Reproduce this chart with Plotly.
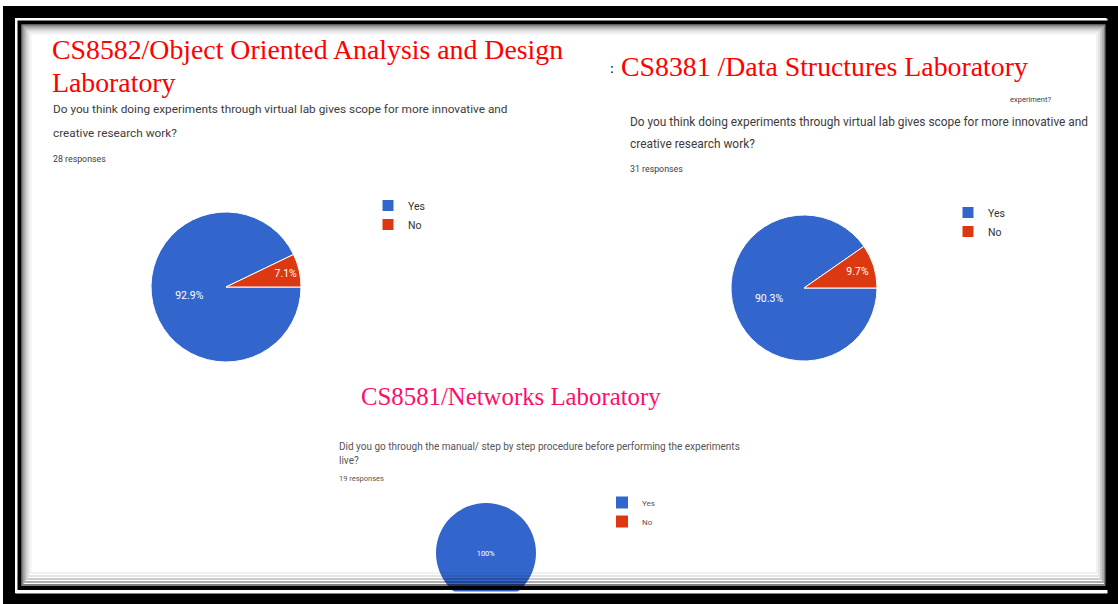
import plotly.graph_objects as go

# Survey answers (Google Forms style pies)
LABELS = ["Yes", "No"]
oodl_values = [26, 2]        # CS8582 - 28 responses
ds_values = [28, 3]          # CS8381 - 31 responses
net_values = [19, 0]         # CS8581 - 19 responses

TITLES = [
    "CS8582/Object Oriented Analysis and Design",
    "Laboratory",
    "CS8381 /Data Structures Laboratory",
    "CS8581/Networks Laboratory",
]
QUESTION_A = ["Do you think doing experiments through virtual lab gives scope for more innovative and",
              "creative research work?"]
QUESTION_B = ["Did you go through the manual/ step by step procedure before performing the experiments",
              "live?"]
RESPONSES = ["28 responses", "31 responses", "19 responses"]

W, H = 1118, 604
BLUE = "#3366CC"
RED = "#DC3912"
TITLE_RED = "#FF0000"
TITLE_PINK = "#FF0D68"
Q_GRAY = "#3c3c3c"
SANS = "Roboto, sans-serif"
SERIF = "Liberation Serif, Times New Roman, serif"


def px_x(x):
    return x / W


def px_y(y):
    return 1 - y / H


def domain(cx, cy, d):
    return dict(x=[px_x(cx - d / 2), px_x(cx + d / 2)],
                y=[max(0, px_y(cy + d / 2)), px_y(cy - d / 2)])


def pie(values, dom, legend, fmt, size, edge=1):
    return go.Pie(
        labels=LABELS, values=values, sort=False,
        direction="clockwise", rotation=90,
        domain=dom, legend=legend, legendgroup=legend,
        marker=dict(colors=[BLUE, RED], line=dict(color="white", width=edge)),
        textinfo="percent", texttemplate=fmt,
        textposition="inside", insidetextorientation="horizontal",
        textfont=dict(color="white", size=size, family=SANS),
        hoverinfo="label+percent",
    )


fig = go.Figure()
fig.add_trace(pie(oodl_values, domain(226, 287, 150), "legend", "%{percent:.1%}", 10.5))
fig.add_trace(pie(ds_values, domain(804, 288, 146), "legend2", "%{percent:.1%}", 10.5))
fig.add_trace(pie(net_values, domain(486, 553, 100), "legend3", ["%{percent:.0%}", ""], 7.5, edge=0))


def text(s, x, y, size, color, family, xanchor="left"):
    fig.add_annotation(text=s, x=px_x(x), y=px_y(y), xref="paper", yref="paper",
                       xanchor=xanchor, yanchor="middle", showarrow=False,
                       font=dict(size=size, color=color, family=family))


# titles
text(TITLES[0], 50, 49, 27.8, TITLE_RED, SERIF)
text(TITLES[1], 50, 82, 27.8, TITLE_RED, SERIF)
text(":", 608, 68, 14, "black", SERIF)
text(TITLES[2], 619, 66, 27.8, TITLE_RED, SERIF)
text(TITLES[3], 359, 396, 24.8, TITLE_PINK, SERIF)

# questions - left
text(QUESTION_A[0], 51, 109, 11.8, Q_GRAY, SANS)
text(QUESTION_A[1], 51, 133, 11.8, Q_GRAY, SANS)
text(RESPONSES[0], 51, 159, 8.8, Q_GRAY, SANS)

# questions - right
text("experiment?", 1008, 99, 7.5, Q_GRAY, SANS)
text(QUESTION_A[0], 628, 122, 11.9, Q_GRAY, SANS)
text(QUESTION_A[1], 628, 144, 11.9, Q_GRAY, SANS)
text(RESPONSES[1], 628, 169, 8.8, Q_GRAY, SANS)

# questions - bottom
text(QUESTION_B[0], 337, 446, 10, "#555555", SANS)
text(QUESTION_B[1], 337, 460, 10, "#555555", SANS)
text(RESPONSES[2], 337, 478, 7.5, "#555555", SANS)

# frame: thick black border, white gap, thin black line, soft inner shadow
frame = [
    (9, 12, 1112, 599, "black", 12),
    (16.5, 19.5, 1106.5, 592.5, "white", 2),
    (19.5, 22.5, 1107.5, 588, "black", 4),
    (22.5, 25.5, 1105, 585, "rgba(0,0,0,0.5)", 2),
    (24.5, 27.5, 1103, 582, "rgba(0,0,0,0.32)", 2),
    (26.5, 29.5, 1101, 579, "rgba(0,0,0,0.2)", 2),
    (28.5, 31.5, 1099, 576, "rgba(0,0,0,0.1)", 2),
    (30.5, 33.5, 1097, 573, "rgba(0,0,0,0.05)", 2),
]
for x0, y0, x1, y1, col, w in frame:
    fig.add_shape(type="rect", xref="paper", yref="paper",
                  x0=px_x(x0), y0=px_y(y1), x1=px_x(x1), y1=px_y(y0),
                  line=dict(color=col, width=w), layer="above")

legend_style = dict(xanchor="left", yanchor="top", bgcolor="rgba(0,0,0,0)",
                    tracegroupgap=0, itemwidth=30)
fig.update_layout(
    width=W, height=H,
    margin=dict(l=0, r=0, t=0, b=0),
    paper_bgcolor="white",
    uniformtext=dict(minsize=7, mode="show"),
    legend=dict(x=px_x(368), y=px_y(191), font=dict(size=10.5, color="#333333", family=SANS),
                **legend_style),
    legend2=dict(x=px_x(948), y=px_y(198), font=dict(size=10.5, color="#333333", family=SANS),
                 **legend_style),
    legend3=dict(x=px_x(602), y=px_y(488), font=dict(size=8, color="#555555", family=SANS),
                 **legend_style),
)

fig.write_html("out.html", config={"displayModeBar": False},
               post_script="document.body.style.margin='0';")
